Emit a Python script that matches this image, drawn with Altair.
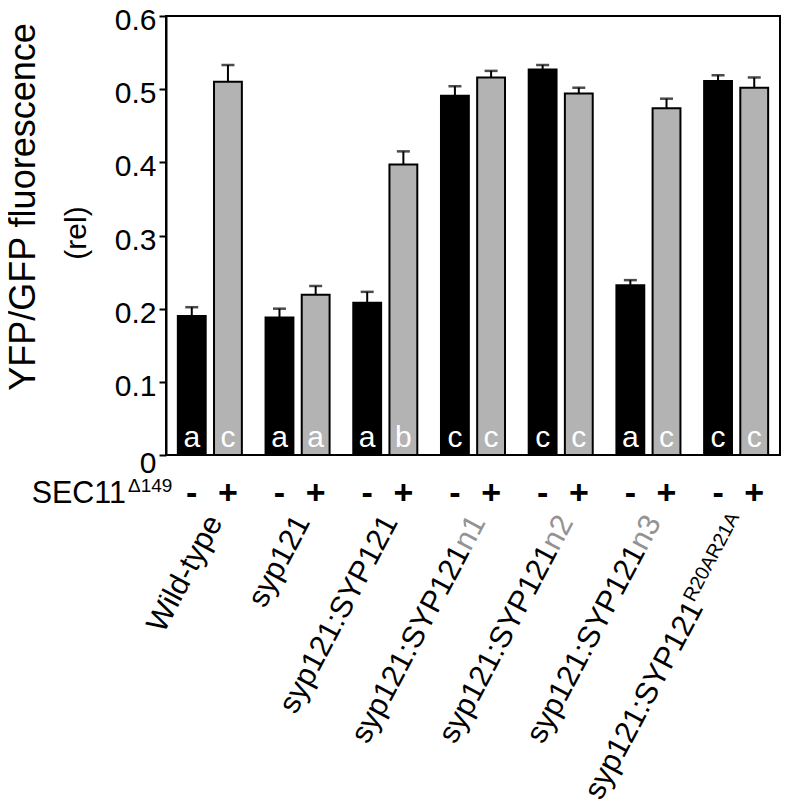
import altair as alt
import pandas as pd

F = "Liberation Sans"

groups = ["Wild-type", "syp121", "syp121:SYP121", "syp121:SYP121n1",
          "syp121:SYP121n2", "syp121:SYP121n3", "syp121:SYP121R20AR21A"]
label_main = ["Wild-type", "syp121", "syp121:SYP121", "syp121:SYP121",
              "syp121:SYP121", "syp121:SYP121", "syp121:SYP121"]
label_suffix = ["", "", "", "n1", "n2", "n3", ""]
label_sup = ["", "", "", "", "", "", "R20AR21A"]

conditions = ["-", "+"]
minus_vals = [0.190, 0.188, 0.208, 0.491, 0.527, 0.232, 0.511]
minus_err = [0.012, 0.012, 0.015, 0.013, 0.006, 0.007, 0.008]
plus_vals = [0.510, 0.219, 0.397, 0.516, 0.494, 0.474, 0.502]
plus_err = [0.023, 0.012, 0.018, 0.009, 0.008, 0.013, 0.014]
minus_letters = ["a", "a", "a", "c", "c", "a", "c"]
plus_letters = ["c", "a", "b", "c", "c", "c", "c"]

y_ticks = [0, 0.1, 0.2, 0.3, 0.4, 0.5, 0.6]
title_lines = ["YFP/GFP fluorescence", "(rel)"]

rows = []
for i, g in enumerate(groups):
    rows.append(dict(group=g, cond="-", value=minus_vals[i], err=minus_err[i], letter=minus_letters[i]))
    rows.append(dict(group=g, cond="+", value=plus_vals[i], err=plus_err[i], letter=plus_letters[i]))
df = pd.DataFrame(rows)
df["top"] = df["value"] + df["err"]

lab = pd.DataFrame(dict(group=groups, main=label_main, suffix=label_suffix, sup=label_sup))

W, H = 614, 439

xenc = alt.X("group:N", sort=groups, axis=None,
             scale=alt.Scale(paddingInner=0.27, paddingOuter=0.135))
xoff = alt.XOffset("cond:N", sort=conditions,
                   scale=alt.Scale(paddingInner=0.23, paddingOuter=0))
yaxis = alt.Axis(
    values=y_ticks,
    labelExpr="datum.value == 0 ? '0' : format(datum.value, '.1f')",
    labelFont=F, labelFontSize=30, labelColor="black", labelPadding=3,
    labelOffset={"condition": {"test": "datum.value === 0", "value": 8}, "value": 4.5},
    tickColor="black", tickWidth=2, tickSize=7,
    domainColor="black", domainWidth=2, grid=False, title=None,
)
yenc = alt.Y("value:Q", scale=alt.Scale(domain=[0, 0.6], nice=False), axis=yaxis)

base = alt.Chart(df)

bars = base.mark_bar(stroke="black", strokeWidth=2).encode(
    x=xenc, xOffset=xoff, y=yenc,
    color=alt.Color("cond:N", scale=alt.Scale(domain=conditions, range=["#000000", "#b3b3b3"]), legend=None),
)
err_rule = base.mark_rule(color="black", strokeWidth=2).encode(
    x=xenc, xOffset=xoff, y="value:Q", y2="top:Q")
err_cap = base.mark_tick(color="black", size=13, thickness=2.5).encode(
    x=xenc, xOffset=xoff, y="top:Q")
letters = base.mark_text(font=F, fontSize=30, color="white", baseline="alphabetic").encode(
    x=xenc, xOffset=xoff, y=alt.value(430.7), text="letter:N")
signs = base.mark_text(font=F, fontSize=34, fontWeight="bold", color="black", baseline="middle").encode(
    x=xenc, xOffset=xoff, y=alt.value(478), text="cond:N")

ANG = 298
FS = 30.5
DY = 15
Y0 = 499
SUF_W = 33.9
SUP_FS = 19.5
SUP_W = 97.5

labbase = alt.Chart(lab)
common = dict(font=F, fontSize=FS, baseline="alphabetic", angle=ANG)
main_plain = labbase.transform_filter("datum.suffix == '' && datum.sup == ''").mark_text(
    color="black", align="right", dy=DY, **common
).encode(x=xenc, y=alt.value(Y0), text="main:N")
main_suf = labbase.transform_filter("datum.suffix != ''").mark_text(
    color="black", align="right", dy=DY, dx=-SUF_W, **common
).encode(x=xenc, y=alt.value(Y0), text="main:N")
suf = labbase.transform_filter("datum.suffix != ''").mark_text(
    color="#939393", align="right", dy=DY, **common
).encode(x=xenc, y=alt.value(Y0), text="suffix:N")
main_sup = labbase.transform_filter("datum.sup != ''").mark_text(
    color="black", align="right", dy=DY, dx=-SUP_W, **common
).encode(x=xenc, y=alt.value(Y0), text="main:N")
sup = labbase.transform_filter("datum.sup != ''").mark_text(
    font=F, fontSize=SUP_FS, color="black", align="left", baseline="alphabetic", angle=ANG,
    dy=DY - 11, dx=-SUP_W
).encode(x=xenc, y=alt.value(Y0), text="sup:N")

title_df = pd.DataFrame({"t1": [title_lines[0]], "t2": [title_lines[1]]})
title1 = alt.Chart(title_df).mark_text(font=F, fontSize=36, color="black", angle=270,
                                       align="center", baseline="middle").encode(
    x=alt.value(-142), y=alt.value(191), text="t1:N")
title2 = alt.Chart(title_df).mark_text(font=F, fontSize=30, color="black", angle=270,
                                       align="center", baseline="middle").encode(
    x=alt.value(-89), y=alt.value(217), text="t2:N")

sec_df = pd.DataFrame({"t": ["SEC11"], "s": ["\u0394149"]})
sec = alt.Chart(sec_df).mark_text(font=F, fontSize=30.5, color="black", align="right", baseline="alphabetic").encode(
    x=alt.value(-40), y=alt.value(487), text="t:N")
sec_sup = alt.Chart(sec_df).mark_text(font=F, fontSize=19, color="black", align="left", baseline="alphabetic").encode(
    x=alt.value(-38), y=alt.value(476), text="s:N")

chart = alt.layer(
    bars, err_rule, err_cap, letters, signs,
    main_plain, main_suf, suf, main_sup, sup, title1, title2, sec, sec_sup
).properties(
    width=W, height=H,
    autosize=alt.AutoSizeParams(type="none"),
    padding={"left": 158, "top": 8, "right": 1, "bottom": 353},
).configure(
    background="white",
    view=alt.ViewConfig(stroke="black", strokeWidth=2),
)

chart.save("out.html", embed_options={"renderer": "svg", "actions": False})
